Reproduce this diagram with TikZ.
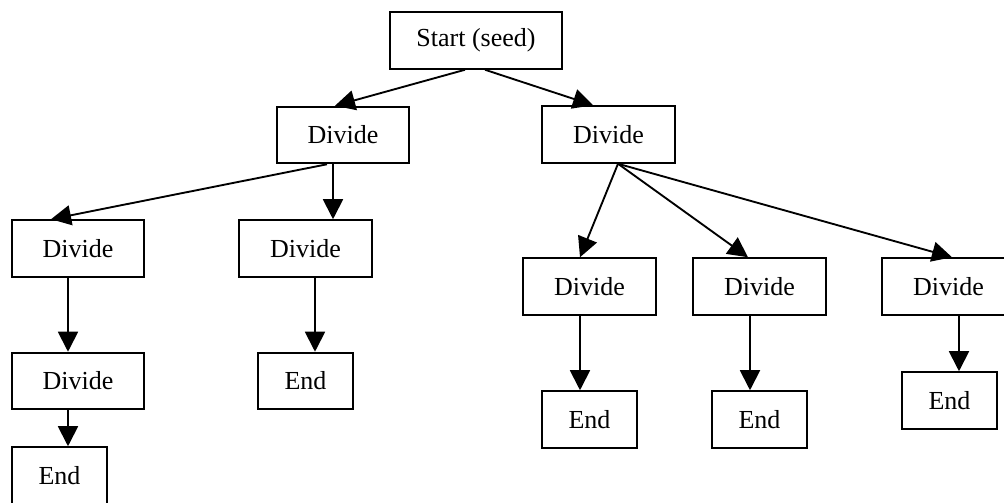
\documentclass[tikz,border=0pt]{standalone}
\usepackage{fontspec}
\setmainfont{Liberation Serif}
\usetikzlibrary{arrows.meta,calc}
\begin{document}
\begin{tikzpicture}[x=0.75pt,y=-0.75pt,
  box/.style={draw,line width=1.4pt,inner sep=0pt,minimum height=42.5pt,
    font=\fontsize{19.5}{22}\selectfont},
  wide/.style={box,minimum width=99.5pt},
  endbox/.style={box,minimum width=71pt},
  startbox/.style={box,minimum width=129pt},
  arr/.style={line width=1.4pt,-{Triangle[length=15pt,width=15pt]}}]
\useasboundingbox (0,0) rectangle (1004,503);
% tree nodes
\node[startbox] (start) at (476,40.5) {Start (seed)};
\node[wide] (dA) at (343,135) {Divide};
\node[wide] (dB) at (608.5,134.5) {Divide};
\node[wide] (dC) at (78,248.5) {Divide};
\node[wide] (dD) at (305.5,248.5) {Divide};
\node[wide] (dE) at (78,381) {Divide};
\node[endbox] (eF) at (305.5,381) {End};
\node[endbox] (eG) at (59.5,475.5) {End};
\node[wide] (dH) at (589.5,286.5) {Divide};
\node[wide] (dI) at (759.5,286.5) {Divide};
\node[wide] (dJ) at (948.5,286.5) {Divide};
\node[endbox] (eK) at (589.5,419.5) {End};
\node[endbox] (eL) at (759.5,419.5) {End};
\node[endbox] (eM) at (949.5,400.5) {End};
% connectors
\draw[arr] ($(start.south)+(-11,0)$) -- ($(dA.north)+(-8,0)$);
\draw[arr] ($(start.south)+(9,0)$) -- ($(dB.north)+(-15.5,0)$);
\draw[arr] ($(dA.south)+(-16,0)$) -- ($(dC.north)+(-27,0)$);
\draw[arr] ($(dA.south)+(-10,0)$) -- ($(dD.north)+(27.5,0)$);
\draw[arr] ($(dB.south)+(9.5,0)$) -- ($(dH.north)+(-9.5,0)$);
\draw[arr] ($(dB.south)+(9.5,0)$) -- ($(dI.north)+(-11.5,0)$);
\draw[arr] ($(dB.south)+(9.5,0)$) -- ($(dJ.north)+(3.5,0)$);
\draw[arr] ($(dC.south)+(-10,0)$) -- ($(dE.north)+(-10,0)$);
\draw[arr] ($(dD.south)+(9.5,0)$) -- ($(eF.north)+(9.5,0)$);
\draw[arr] ($(dE.south)+(-10,0)$) -- ($(eG.north)+(8.5,0)$);
\draw[arr] ($(dH.south)+(-9.5,0)$) -- ($(eK.north)+(-9.5,0)$);
\draw[arr] ($(dI.south)+(-9.5,0)$) -- ($(eL.north)+(-9.5,0)$);
\draw[arr] ($(dJ.south)+(10.5,0)$) -- ($(eM.north)+(9.5,0)$);
\end{tikzpicture}
\end{document}
